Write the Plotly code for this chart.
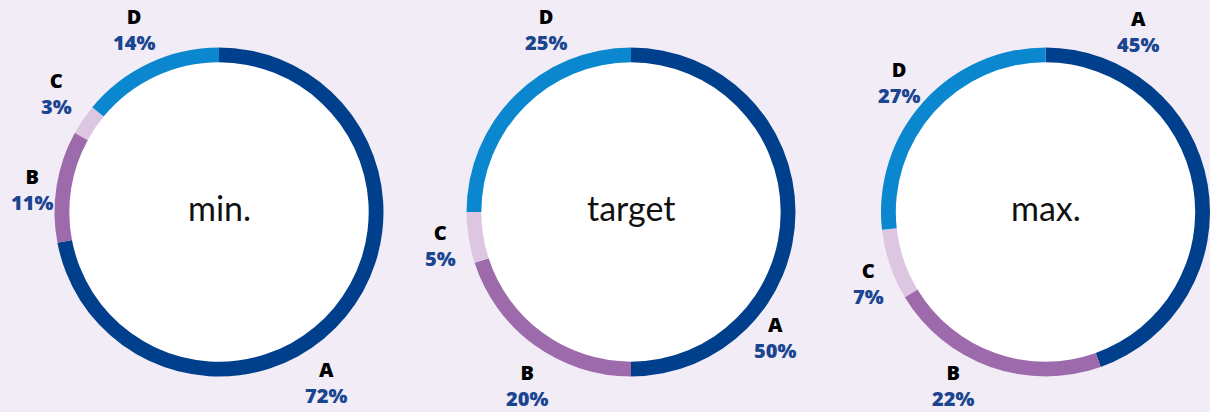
import math
import plotly.graph_objects as go

# data
slice_labels = ["A", "B", "C", "D"]
min_values = [72, 11, 3, 14]
target_values = [50, 20, 5, 25]
max_values = [45, 22, 7, 27]
chart_titles = ["min.", "target", "max."]

W, H = 1210, 412
BG = "#f2ecf6"
COLORS = ["#003f8c", "#9d6bab", "#ddc6e1", "#0a87cf"]
PCT_COLOR = "#1a4590"

# layout of the three rings (pixels)
centers_x = [219, 631, 1045.5]
center_y = 212
radius = 164.5

# where each slice label sits: (angle clockwise from 12 o'clock, distance from centre)
label_spots = [
    [(148, 201), (-83, 188), (-54, 201), (-25, 201)],
    [(131, 191), (211, 202), (260, 193), (-25, 201)],
    [(27, 203), (208, 196), (248, 191), (-48.5, 196)],
]

fig = go.Figure()
annotations = []

for i, values in enumerate([min_values, target_values, max_values]):
    cx = centers_x[i]
    domain = dict(
        x=[(cx - radius) / W, min((cx + radius) / W, 1.0)],
        y=[(H - center_y - radius) / H, (H - center_y + radius) / H],
    )
    # white disc behind the ring
    fig.add_trace(go.Pie(
        values=[1], marker=dict(colors=["white"], line=dict(width=0)),
        textinfo="none", hoverinfo="skip", showlegend=False, sort=False,
        domain=domain,
    ))
    fig.add_trace(go.Pie(
        labels=slice_labels, values=values, hole=0.91, sort=False,
        direction="clockwise", rotation=0,
        marker=dict(colors=COLORS, line=dict(width=0)),
        textinfo="none", showlegend=False, domain=domain,
    ))

    annotations.append(dict(
        x=cx / W, y=(H - center_y) / H, xref="paper", yref="paper",
        text=chart_titles[i], showarrow=False, yshift=5,
        font=dict(family="Lato, 'Noto Sans', sans-serif", size=34, color="#111111"),
        xanchor="center", yanchor="middle",
    ))

    total = sum(values)
    for lab, v, (ang, r) in zip(slice_labels, values, label_spots[i]):
        a = math.radians(ang)
        lx = cx + r * math.sin(a)
        ly = center_y - r * math.cos(a)
        pct = round(100 * v / total)
        annotations.append(dict(
            x=lx / W, y=(H - ly) / H, xref="paper", yref="paper",
            text=f"{lab}<br><span style='color:{PCT_COLOR}'>{pct}%</span>",
            showarrow=False, align="center",
            font=dict(family="'Open Sans', Lato, sans-serif", size=20,
                      color="#000000", weight=800),
            xanchor="center", yanchor="middle",
        ))

fig.update_layout(
    width=W, height=H,
    margin=dict(l=0, r=0, t=0, b=0),
    paper_bgcolor=BG, plot_bgcolor=BG,
    annotations=annotations,
)

fig.write_html("out.html", config={"displayModeBar": False},
               post_script="document.body.style.margin='0';")
